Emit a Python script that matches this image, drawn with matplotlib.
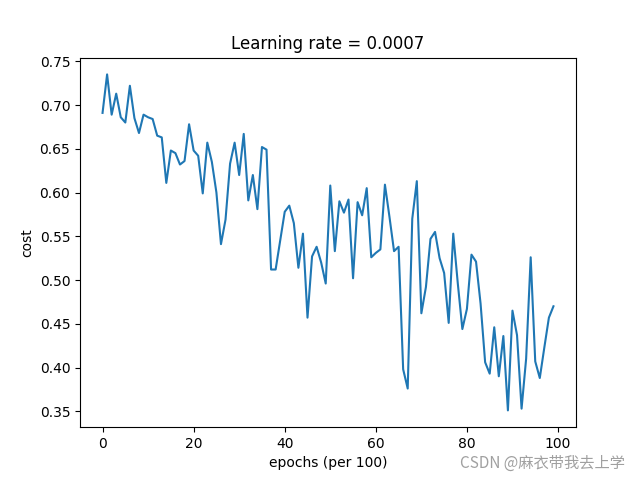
import matplotlib
matplotlib.use("Agg")
import matplotlib.pyplot as plt

costs = [0.691, 0.735, 0.689, 0.713, 0.686, 0.680, 0.722, 0.685, 0.668, 0.689,
         0.686, 0.684, 0.665, 0.663, 0.611, 0.648, 0.645, 0.632, 0.636, 0.678,
         0.648, 0.642, 0.599, 0.657, 0.635, 0.600, 0.541, 0.569, 0.633, 0.657,
         0.620, 0.667, 0.591, 0.620, 0.581, 0.652, 0.649, 0.512, 0.512, 0.545,
         0.578, 0.585, 0.565, 0.514, 0.553, 0.457, 0.527, 0.538, 0.520, 0.496,
         0.608, 0.533, 0.590, 0.577, 0.592, 0.502, 0.589, 0.574, 0.605, 0.526,
         0.531, 0.535, 0.609, 0.572, 0.533, 0.538, 0.398, 0.376, 0.570, 0.613,
         0.462, 0.492, 0.547, 0.555, 0.525, 0.508, 0.451, 0.553, 0.496, 0.444,
         0.467, 0.529, 0.521, 0.473, 0.406, 0.393, 0.446, 0.390, 0.436, 0.351,
         0.465, 0.437, 0.353, 0.410, 0.526, 0.407, 0.388, 0.423, 0.457, 0.470]
learning_rate = 0.0007

fig = plt.figure(figsize=(6.4, 4.8), dpi=100)
plt.plot(costs)
plt.ylabel("cost")
plt.xlabel("epochs (per 100)")
plt.title("Learning rate = " + str(learning_rate))

# watermark
fig.text(0.977, 0.035, "CSDN @麻衣带我去上学", ha="right", va="center",
         fontsize=11, color="#a0a0a0",
         family=["Noto Sans CJK SC", "DejaVu Sans"])

plt.savefig("out.png", dpi=100)
